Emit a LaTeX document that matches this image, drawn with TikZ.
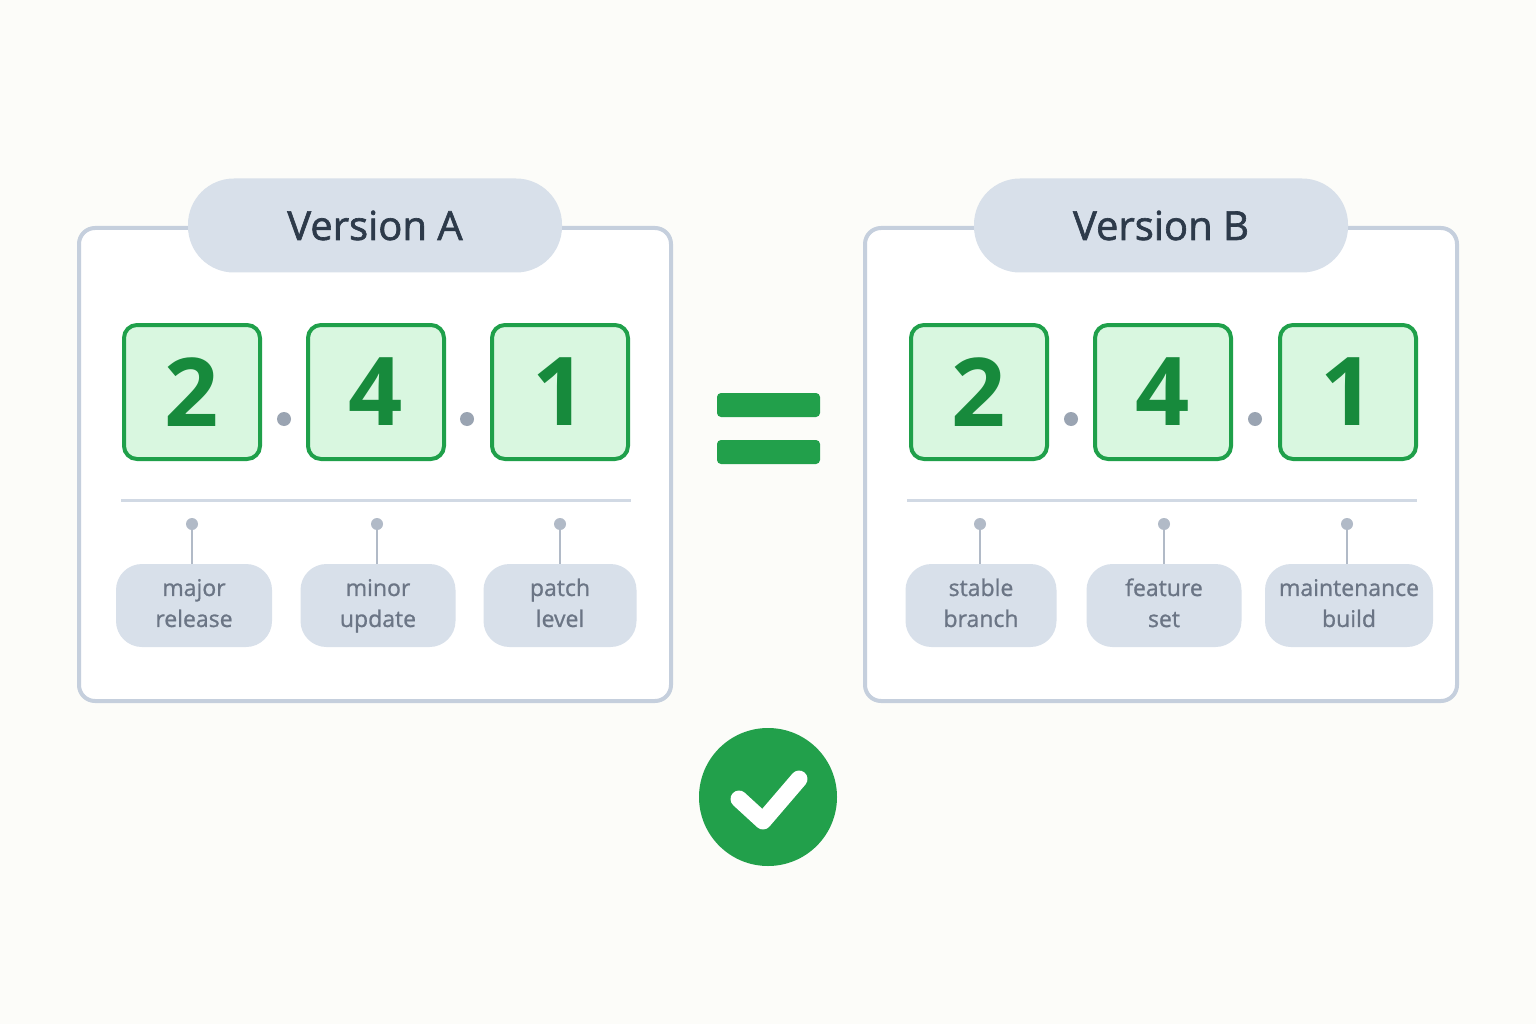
\documentclass[tikz,border=0pt]{standalone}
\usepackage{fontspec}
\setmainfont{Open Sans}
\newfontfamily\semi[FakeBold=1.6]{Open Sans}
\newfontfamily\medi[FakeBold=1.0]{Open Sans}
\definecolor{bg}{HTML}{FCFCF9}
\definecolor{frame}{HTML}{C5CFDD}
\definecolor{pill}{HTML}{D8E0EA}
\definecolor{titletxt}{HTML}{2D3A4A}
\definecolor{boxfill}{HTML}{D9F7E0}
\definecolor{boxline}{HTML}{1FA04A}
\definecolor{digit}{HTML}{178A3C}
\definecolor{dotc}{HTML}{9AA4B2}
\definecolor{lbl}{HTML}{6B7585}
\definecolor{grn}{HTML}{22A04B}
\begin{document}
\begin{tikzpicture}[x=1pt,y=-1pt,
  panel/.style={draw=frame,line width=4pt,rounded corners=16pt,fill=white},
  title/.style={fill=pill,rounded corners=46pt,text=titletxt,font=\semi\fontsize{40}{44}\selectfont},
  dig/.style={draw=boxline,line width=4pt,fill=boxfill,rounded corners=13pt,minimum width=136pt,minimum height=134pt,text=digit,font=\fontsize{95}{95}\selectfont\bfseries,inner sep=0},
  sep/.style={fill=dotc,circle,inner sep=0,minimum size=14pt},
  lab/.style={fill=pill,rounded corners=26pt,minimum height=83pt,text=lbl,align=center,font=\medi\fontsize{23}{31}\selectfont,inner sep=0},
  ldot/.style={fill=frame!90!black,circle,inner sep=0,minimum size=12pt},
  tick/.style={draw=frame!90!black,line width=2.5pt},
  rule/.style={draw=frame!80!white,line width=3pt}]
\useasboundingbox[fill=bg] (0,0) rectangle (1536,1024);
% panels
\foreach \o/\n/\t in {0/A/Version A,786/B/Version B}{
  \draw[panel] (79+\o,228) rectangle (671+\o,701);
  \node[title,minimum width=374pt,minimum height=94pt] (title\n) at (375+\o,225.5) {\t};
  \draw[rule] (121+\o,500) -- (631+\o,500);
}
% digits
\foreach \x/\d/\n in {192/2/a1,376/4/a2,560/1/a3,979/2/b1,1163/4/b2,1348/1/b3}{
  \node[dig] (\n) at (\x,392) {\d};
}
\foreach \x/\n in {284/sa1,467/sa2,1071/sb1,1255/sb2}{\node[sep] (\n) at (\x,419) {};}
% labels
\foreach \x/\w/\t/\n in {194/156/{major\\release}/la1,378/155/{minor\\update}/la2,560/153/{patch\\level}/la3,981/151/{stable\\branch}/lb1,1164/155/{feature\\set}/lb2,1349/168/{maintenance\\build}/lb3}{
  \node[lab,minimum width=\w pt] (\n) at (\x,605.5) {\vphantom{lg}\t\vphantom{lg}};
}
\foreach \x/\n in {192/la1,377/la2,560/la3,980/lb1,1164/lb2,1347/lb3}{
  \node[ldot] (d\n) at (\x,524) {};
  \draw[tick] (d\n) -- (\x,564);
}
% equals
\fill[grn,rounded corners=4pt] (717,393) rectangle (820,417);
\fill[grn,rounded corners=4pt] (717,440) rectangle (820,464);
% check
\node[circle,fill=grn,minimum size=138pt] (ok) at (768,797) {};
\draw[white,line width=17pt,line cap=round,line join=round] (739,799) -- (763,821) -- (799,779);
\end{tikzpicture}
\end{document}
